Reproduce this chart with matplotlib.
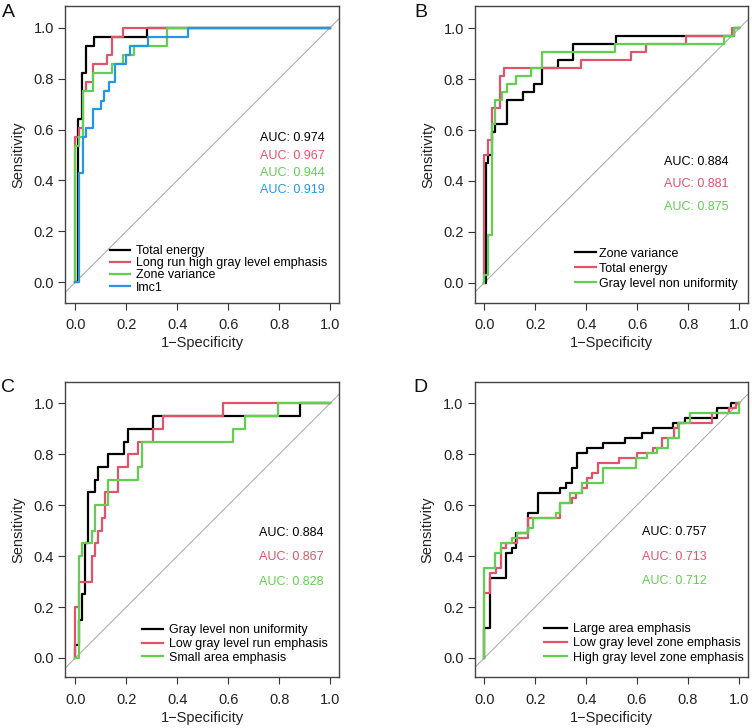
import numpy as np
import matplotlib
matplotlib.use("Agg")
import matplotlib.pyplot as plt

plt.rcParams['font.family'] = ['Liberation Sans', 'DejaVu Sans']

# R 4.x palette: black, red, green, blue
COLORS = ["#000000", "#DF536B", "#61D04F", "#2297E6"]

# ROC curves: corner points (fpr, tpr), drawn as post-steps from (0, 0)

# panel A
a_labels = ["Total energy", "Long run high gray level emphasis", "Zone variance", "Imc1"]
a_auc = [0.974, 0.967, 0.944, 0.919]
a_fpr = [
    [0.012, 0.027, 0.042, 0.073, 0.28, 1.0],
    [0.0, 0.013, 0.029, 0.044, 0.071, 0.126, 0.143, 0.186, 1.0],
    [0.0, 0.013, 0.029, 0.071, 0.143, 0.186, 0.229, 0.359, 1.0],
    [0.014, 0.029, 0.043, 0.071, 0.1, 0.114, 0.131, 0.157, 0.2, 0.214, 0.286, 0.443, 1.0],
]
a_tpr = [
    [0.643, 0.821, 0.929, 0.964, 1.0, 1.0],
    [0.571, 0.607, 0.75, 0.786, 0.857, 0.893, 0.964, 1.0, 1.0],
    [0.536, 0.571, 0.75, 0.821, 0.857, 0.893, 0.929, 1.0, 1.0],
    [0.429, 0.571, 0.607, 0.679, 0.714, 0.75, 0.786, 0.857, 0.893, 0.929, 0.964, 1.0, 1.0],
]

# panel B
b_labels = ["Zone variance", "Total energy", "Gray level non uniformity"]
b_auc = [0.884, 0.881, 0.875]
b_fpr = [
    [0.008, 0.016, 0.03, 0.042, 0.09, 0.153, 0.196, 0.225, 0.288, 0.346, 0.516, 0.98, 1.0],
    [0.0, 0.016, 0.031, 0.061, 0.077, 0.379, 0.575, 0.634, 0.79, 0.971, 1.0],
    [0.0, 0.016, 0.029, 0.042, 0.07, 0.088, 0.123, 0.183, 0.225, 0.512, 0.94, 0.98, 1.0],
]
b_tpr = [
    [0.469, 0.5, 0.594, 0.625, 0.719, 0.75, 0.781, 0.844, 0.875, 0.938, 0.969, 1.0, 1.0],
    [0.5, 0.5625, 0.6875, 0.8125, 0.844, 0.875, 0.906, 0.9375, 0.969, 1.0, 1.0],
    [0.031, 0.1875, 0.625, 0.719, 0.75, 0.781, 0.8125, 0.844, 0.906, 0.9375, 0.969, 1.0, 1.0],
]

# panel C
c_labels = ["Gray level non uniformity", "Low gray level run emphasis", "Small area emphasis"]
c_auc = [0.884, 0.867, 0.828]
c_fpr = [
    [0.0, 0.013, 0.026, 0.038, 0.051, 0.077, 0.09, 0.13, 0.191, 0.205, 0.306, 0.882, 1.0],
    [0.0, 0.013, 0.064, 0.077, 0.09, 0.103, 0.116, 0.169, 0.205, 0.247, 0.306, 0.346, 0.58, 1.0],
    [0.013, 0.026, 0.064, 0.077, 0.13, 0.247, 0.26, 0.62, 0.666, 0.797, 1.0],
]
c_tpr = [
    [0.05, 0.15, 0.25, 0.45, 0.65, 0.7, 0.75, 0.8, 0.85, 0.9, 0.95, 1.0, 1.0],
    [0.2, 0.3, 0.4, 0.45, 0.5, 0.55, 0.65, 0.75, 0.8, 0.85, 0.9, 0.95, 1.0, 1.0],
    [0.4, 0.45, 0.5, 0.6, 0.7, 0.75, 0.85, 0.9, 0.95, 1.0, 1.0],
]

# panel D
d_labels = ["Large area emphasis", "Low gray level zone emphasis", "High gray level zone emphasis"]
d_auc = [0.757, 0.713, 0.712]
d_fpr = [
    [0.0, 0.022, 0.085, 0.107, 0.125, 0.173, 0.212, 0.298, 0.321, 0.343, 0.363, 0.402, 0.468,
     0.553, 0.619, 0.662, 0.743, 0.789, 0.913, 0.97, 1.0],
    [0.0, 0.022, 0.046, 0.064, 0.085, 0.129, 0.173, 0.298, 0.345, 0.36, 0.383, 0.402, 0.422,
     0.445, 0.531, 0.6, 0.662, 0.7, 0.745, 0.76, 0.894, 0.96, 0.99, 1.0],
    [0.0, 0.042, 0.064, 0.107, 0.129, 0.173, 0.193, 0.28, 0.298, 0.337, 0.383, 0.468, 0.595,
     0.638, 0.68, 0.723, 0.765, 0.81, 0.999, 1.0],
]
d_tpr = [
    [0.118, 0.314, 0.412, 0.431, 0.49, 0.569, 0.647, 0.667, 0.686, 0.745, 0.804, 0.824, 0.843,
     0.863, 0.882, 0.902, 0.922, 0.941, 0.98, 1.0, 1.0],
    [0.255, 0.333, 0.353, 0.431, 0.451, 0.471, 0.549, 0.608, 0.627, 0.647, 0.667, 0.706, 0.725,
     0.765, 0.784, 0.804, 0.824, 0.863, 0.902, 0.922, 0.961, 0.98, 1.0, 1.0],
    [0.353, 0.412, 0.451, 0.471, 0.49, 0.51, 0.549, 0.569, 0.608, 0.647, 0.686, 0.745, 0.784,
     0.804, 0.824, 0.863, 0.922, 0.961, 1.0, 1.0],
]

fig = plt.figure(figsize=(7.52, 7.28), dpi=100)
W, H = 752.0, 728.0


def roc_panel(box, xlim, ylim, letter, letter_xy, fpr, tpr, labels, auc, auc_x, auc_y, leg):
    left, top, right, bottom = box
    ax = fig.add_axes([left / W, 1 - bottom / H, (right - left) / W, (bottom - top) / H])
    ax.axline((0, 0), (1, 1), color="#a6a6a6", lw=0.7, zorder=1)
    for i in range(len(labels)):
        ax.plot([0.0] + fpr[i], [0.0] + tpr[i], drawstyle="steps-post",
                color=COLORS[i], lw=1.6, label=labels[i], zorder=2 + i)
    for i in range(len(auc)):
        ax.text(auc_x, auc_y[i], "AUC: %.3f" % auc[i], color=COLORS[i],
                fontsize=9, ha="left", va="center")
    ax.set_xlim(*xlim)
    ax.set_ylim(*ylim)
    ticks = np.arange(0, 1.01, 0.2)
    ax.set_xticks(ticks)
    ax.set_yticks(ticks)
    ax.set_xticklabels(["%.1f" % t for t in ticks])
    ax.set_yticklabels(["%.1f" % t for t in ticks])
    ax.tick_params(axis="both", direction="out", length=5, width=0.8,
                   colors="#333333", labelsize=10.5, labelcolor="#222222")
    ax.tick_params(axis="x", pad=6)
    ax.tick_params(axis="y", pad=3)
    for s in ax.spines.values():
        s.set_color("#444444")
        s.set_linewidth(1.0)
    ax.set_xlabel("1\u2212Specificity", fontsize=10.5, color="#222222", labelpad=3)
    ax.set_ylabel("Sensitivity", fontsize=10.5, color="#222222", labelpad=6)
    lx, ly, hl, hp, ls = leg
    ax.legend(loc="center left", bbox_to_anchor=(lx, ly), frameon=False, fontsize=9,
              handlelength=hl, handletextpad=hp, labelspacing=ls,
              borderpad=0, borderaxespad=0)
    fig.text(letter_xy[0] / W, 1 - letter_xy[1] / H, letter, fontsize=14,
             ha="left", va="baseline", color="#111111")
    return ax


roc_panel((65, 5.7, 339, 303), (-0.0404, 1.0353), (-0.0813, 1.0864), "A", (1.5, 16.7),
          a_fpr, a_tpr, a_labels, a_auc, 0.725, [0.568, 0.497, 0.430, 0.362],
          (0.164, 0.1135, 1.6, 0.46, 0.02))
roc_panel((475, 5.7, 747.7, 303), (-0.0365, 1.033), (-0.0798, 1.0888), "B", (414, 16.7),
          b_fpr, b_tpr, b_labels, b_auc, 0.706, [0.473, 0.388, 0.299],
          (0.3667, 0.1157, 1.7, 0.2, 0.24))
roc_panel((65, 382.3, 339, 677.3), (-0.0404, 1.0353), (-0.0758, 1.0825), "C", (1, 391.5),
          c_fpr, c_tpr, c_labels, c_auc, 0.722, [0.49, 0.398, 0.297],
          (0.28, 0.1129, 1.73, 0.48, 0.13))
roc_panel((474.7, 382.3, 747.7, 677.3), (-0.0377, 1.035), (-0.0758, 1.0825), "D", (413.6, 391.5),
          d_fpr, d_tpr, d_labels, d_auc, 0.619, [0.494, 0.398, 0.302],
          (0.255, 0.1146, 1.8, 0.53, 0.18))

fig.savefig("out.png", dpi=100)
